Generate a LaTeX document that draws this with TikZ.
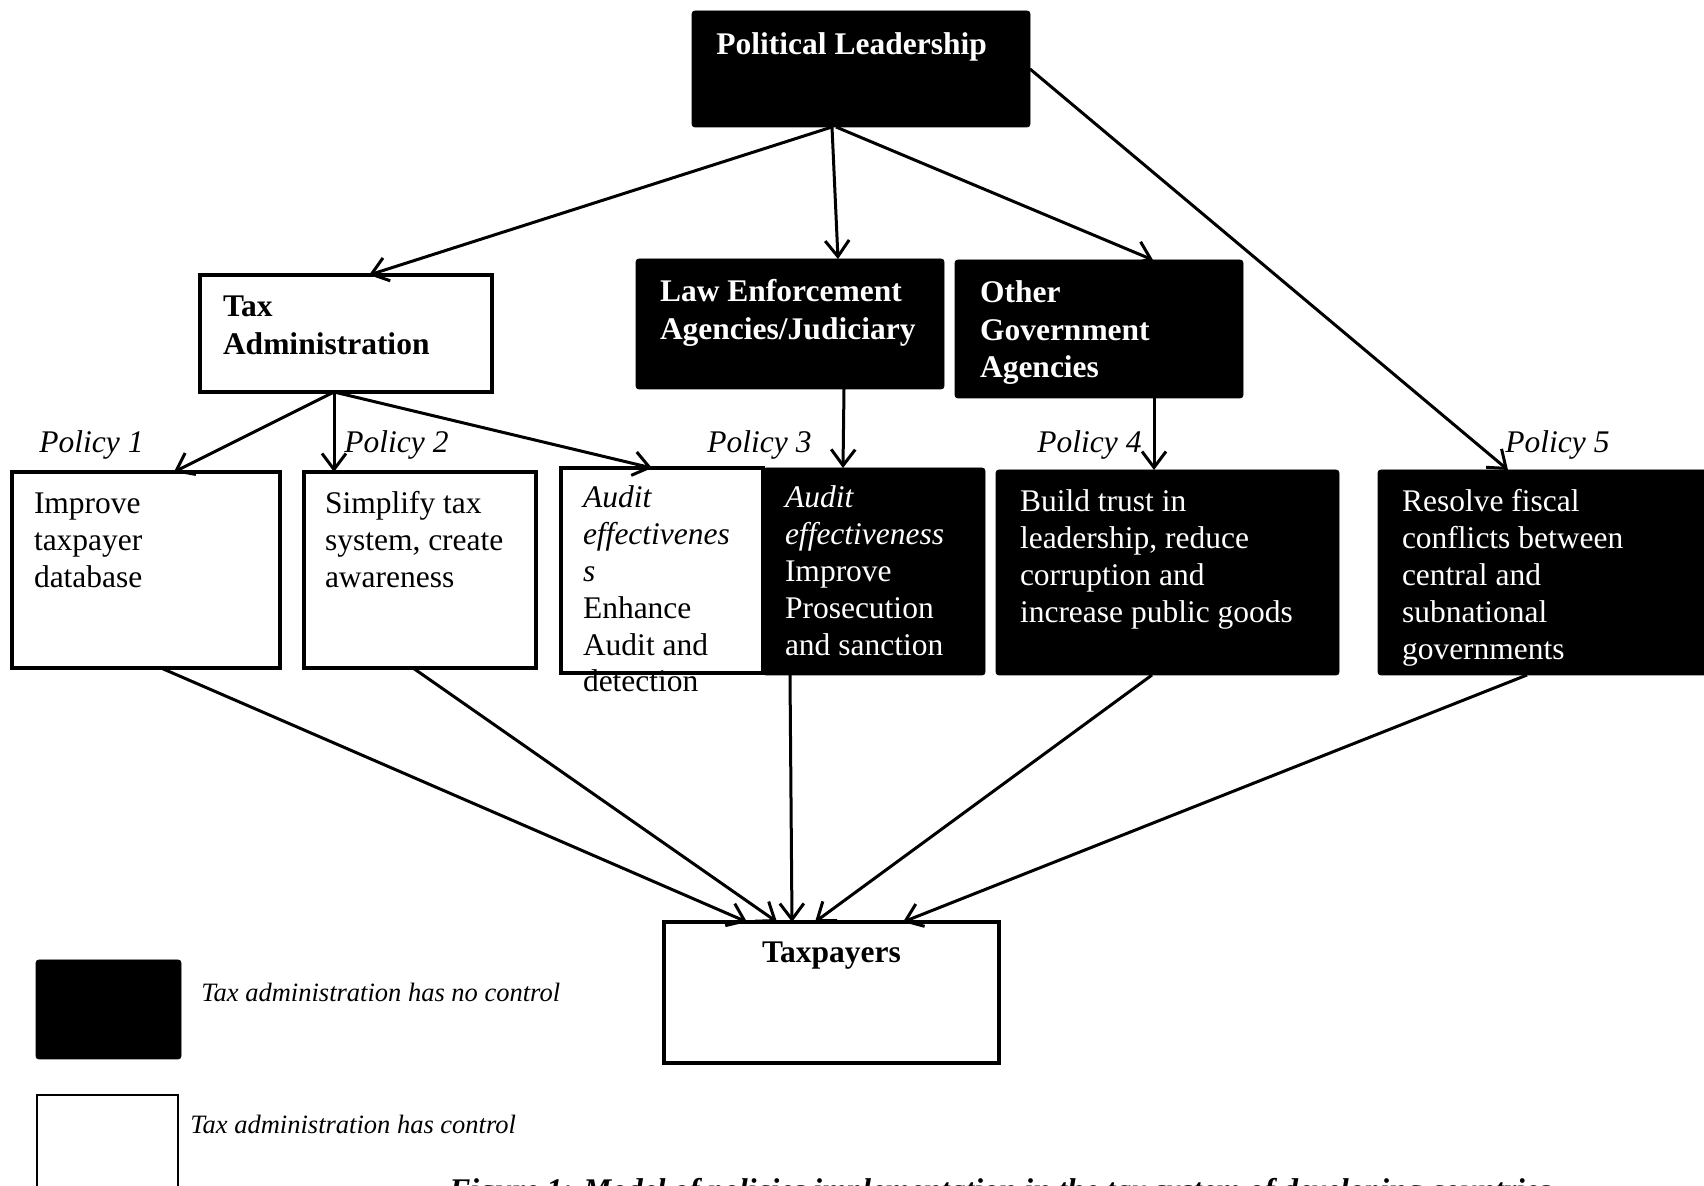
\documentclass[tikz,border=0pt]{standalone}
\usepackage{fontspec}
\setmainfont{Liberation Serif}
\usetikzlibrary{arrows.meta}
\newcommand\fBody{\fontsize{15.75pt}{18.4pt}\selectfont}
\newcommand\fHead{\fontsize{15.75pt}{18.75pt}\selectfont\bfseries}
\newcommand\fLeg{\fontsize{13.25pt}{16pt}\selectfont\itshape}
\begin{document}
\begin{tikzpicture}[x=0.5pt,y=-0.5pt,
  wbox/.style={draw=black,line width=2pt,fill=white,inner sep=0pt,outer sep=0pt,anchor=north west},
  bbox/.style={draw=black,fill=black,rounded corners=1.5pt,inner sep=0pt,outer sep=0pt,anchor=north west},
  lbox/.style={draw=black,line width=1pt,fill=white,inner sep=0pt,outer sep=0pt,anchor=north west},
  arr/.style={line width=1.5pt,-{Straight Barb[length=8pt,width=12pt,line width=1.5pt]}},
  txt/.style={inner sep=0pt,outer sep=0pt,anchor=north west,align=left,font=\fBody},
  head/.style={inner sep=0pt,outer sep=0pt,anchor=north west,align=left,font=\fHead,text=white},
  pol/.style={inner sep=0pt,anchor=base west,font=\fBody\itshape},
  leg/.style={inner sep=0pt,anchor=base west,font=\fLeg}]
\useasboundingbox (0,0) rectangle (1704,1186);
\fill[white] (0,0) rectangle (1704,1186);

% boxes
\node[bbox,minimum width=169pt,minimum height=58pt] (pl) at (692,11) {};
\node[wbox,minimum width=146pt,minimum height=58.5pt] (tax) at (200,275) {};
\node[bbox,minimum width=154pt,minimum height=65pt] (law) at (636,259) {};
\node[bbox,minimum width=144pt,minimum height=69pt] (oga) at (955,260) {};
\node[wbox,minimum width=134pt,minimum height=98pt] (p1) at (12,472) {};
\node[wbox,minimum width=116pt,minimum height=98pt] (p2) at (304,472) {};
\node[wbox,minimum width=101pt,minimum height=102.5pt] (p3a) at (561,468) {};
\node[bbox,minimum width=111pt,minimum height=103.5pt] (p3b) at (763,468) {};
\node[bbox,minimum width=171.5pt,minimum height=102.5pt] (p4) at (996,470) {};
\node[bbox,minimum width=165pt,minimum height=102.5pt] (p5) at (1378,470) {};
\node[wbox,minimum width=167.5pt,minimum height=70.5pt] (tp) at (664,922) {};
\node[bbox,minimum width=72.5pt,minimum height=49.5pt] (lb) at (36,960) {};
\node[lbox,minimum width=70.5pt,minimum height=52pt] (lw) at (37,1095) {};

% texts
\node[inner sep=0pt,anchor=base west,font=\fHead,text=white] (tpl) at (716,55) {Political Leadership};
\node[head,text=black] (ttax) at (223,290.75) {\strut Tax\\Administration};
\node[head] (tlaw) at (660,275.75) {\strut Law Enforcement\\Agencies/Judiciary};
\node[head] (toga) at (980,276.75) {\strut Other\\Government\\Agencies};

\node[pol] (pol1) at (39,453) {Policy 1};
\node[pol] (pol2) at (344,453) {Policy 2};
\node[pol] (pol3) at (707,453) {Policy 3};
\node[pol] (pol4) at (1037,453) {Policy 4};
\node[pol] (pol5) at (1505,453) {Policy 5};

\node[txt] (t1) at (34,488.2) {\strut Improve\\taxpayer\\database};
\node[txt] (t2) at (325,488.2) {\strut Simplify tax\\system, create\\awareness};
\node[txt] (t3a) at (583,482.2) {\strut\textit{Audit}\\\textit{effectivenes}\\\textit{s}\\Enhance\\Audit and\\detection};
\node[txt,text=white] (t3b) at (785,482.2) {\strut\textit{Audit}\\\textit{effectiveness}\\Improve\\Prosecution\\and sanction};
\node[txt,text=white] (t4) at (1020,486.2) {\strut Build trust in\\leadership, reduce\\corruption and\\increase public goods};
\node[txt,text=white] (t5) at (1402,486.2) {\strut Resolve fiscal\\conflicts between\\central and\\subnational\\governments};

\node[inner sep=0pt,anchor=base,font=\fHead] (ttp) at (831.5,963) {Taxpayers};
\node[leg] (l1) at (201,1001) {Tax administration has no control};
\node[leg] (l2) at (190,1133) {Tax administration has control};
\node[inner sep=0pt,anchor=base west,font=\fBody\bfseries\itshape] (cap) at (449,1200) {Figure 1: Model of policies implementation in the tax system of developing countries};

% arrows
\draw[arr] ([xshift=70pt]pl.south west) -- ([xshift=84.5pt]tax.north west);
\draw[arr] ([xshift=70pt]pl.south west) -- ([xshift=101pt]law.north west);
\draw[arr] ([xshift=72pt]pl.south west) -- ([xshift=99pt]oga.north west);
\draw[arr] (pl.east) -- ([xshift=65pt]p5.north west);
\draw[arr] ([xshift=67pt]tax.south west) -- ([xshift=81pt]p1.north west);
\draw[arr] ([xshift=67pt]tax.south west) -- ([xshift=15pt]p2.north west);
\draw[arr] ([xshift=67pt]tax.south west) -- ([xshift=45.5pt]p3a.north west);
\draw[arr] ([xshift=104pt]law.south west) -- ([xshift=40pt]p3b.north west);
\draw[arr] ([xshift=99.5pt]oga.south west) -- ([xshift=79pt]p4.north west);
\draw[arr] ([xshift=74.5pt]p1.south west) -- ([xshift=41.5pt]tp.north west);
\draw[arr] ([xshift=54.5pt]p2.south west) -- ([xshift=56.5pt]tp.north west);
\draw[arr] ([xshift=13.5pt]p3b.south west) -- ([xshift=64pt]tp.north west);
\draw[arr] ([xshift=78pt]p4.south west) -- ([xshift=75.5pt]tp.north west);
\draw[arr] ([xshift=74.5pt]p5.south west) -- ([xshift=119.5pt]tp.north west);
\end{tikzpicture}
\end{document}
